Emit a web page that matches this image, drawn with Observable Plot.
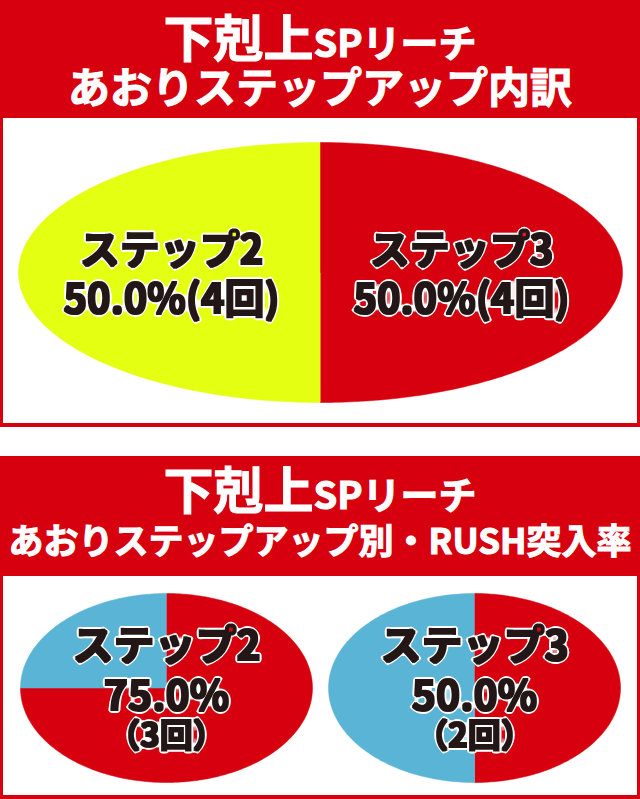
<!DOCTYPE html>
<html><head><meta charset="utf-8">
<script src="https://cdn.jsdelivr.net/npm/d3@7"></script>
<script src="https://cdn.jsdelivr.net/npm/@observablehq/plot@0.6"></script>
<style>
body{margin:0;background:#fff;width:640px;height:799px;position:relative;overflow:hidden;font-family:"Noto Sans CJK JP","Noto Sans",sans-serif;}
.red{position:absolute;left:0;width:640px;background:#d7000f;}
.white{position:absolute;left:3px;width:634px;background:#fff;}
.t{position:absolute;left:0;width:640px;text-align:center;color:#fff;font-weight:700;line-height:1;white-space:nowrap;-webkit-text-stroke:1.1px #fff;}
.big{font-size:50px;}
.sp{font-size:38px;}
</style></head>
<body>
<div class="red" style="top:0;height:427px"></div>
<div class="t" style="top:10px"><span class="big">下剋上</span><span class="sp">SPリーチ</span></div>
<div class="t" style="top:64px;font-size:42px">あおりステップアップ内訳</div>
<div class="white" id="top" style="top:118px;height:305px"></div>

<div class="red" style="top:456px;height:343px"></div>
<div class="t" style="top:462px"><span class="big">下剋上</span><span class="sp">SPリーチ</span></div>
<div class="t" style="top:521px;font-size:35px">あおりステップアップ別・RUSH突入率</div>
<div class="white" id="bottom" style="top:576px;height:219px;display:flex"></div>

<script>
// ---- data ----
const breakdownLabels = ["ステップ2", "ステップ3"];
const breakdownCounts = [4, 4];
const breakdownColors = ["#e4ff12", "#d7000f"];

const rushSteps = ["ステップ2", "ステップ3"];
const rushHits = [3, 2];
const rushTrials = [4, 4];
const rushCategories = ["RUSH突入", "非突入"];
const rushColors = ["#d7000f", "#5ab4d6"];

const pct = d3.format(".1%");
const FONT = '"Noto Sans CJK JP","Noto Sans",sans-serif';
const textStyle = {fill: "#231815", stroke: "white", strokeWidth: 8, strokeLinejoin: "round",
  fontWeight: 700, fontFamily: FONT};

function wedgePoints(labels, values, start) {
  const arcs = d3.pie().sort(null).startAngle(start).endAngle(start + 2 * Math.PI)(values);
  const pts = [];
  arcs.forEach((a, i) => {
    pts.push({label: labels[i], x: 0, y: 0});
    const n = Math.max(8, Math.ceil((a.endAngle - a.startAngle) * 60));
    for (let k = 0; k <= n; k++) {
      const t = a.startAngle + (a.endAngle - a.startAngle) * k / n;
      pts.push({label: labels[i], x: Math.sin(t), y: Math.cos(t)});
    }
  });
  return {arcs, pts};
}

// heavier dark glyphs: erode grows the dark fill into the white halo
function thicken(svg) {
  const defs = d3.select(svg).insert("defs", ":first-child");
  const f = defs.append("filter").attr("id", "thk" + Math.random().toString(36).slice(2))
    .attr("x", "-10%").attr("y", "-20%").attr("width", "120%").attr("height", "140%");
  f.append("feMorphology").attr("in", "SourceGraphic").attr("operator", "erode").attr("radius", 0.7);
  svg.querySelectorAll('g[aria-label="text"]').forEach(g => g.setAttribute("filter", `url(#${f.attr("id")})`));
  return svg;
}

// ---- top: breakdown ----
{
  const total = d3.sum(breakdownCounts);
  const {arcs, pts} = wedgePoints(breakdownLabels, breakdownCounts, Math.PI);
  const labels = arcs.map((a, i) => {
    const m = (a.startAngle + a.endAngle) / 2;
    return {x: 0.48 * Math.sin(m), y: 0.48 * Math.cos(m),
      text: breakdownLabels[i] + "\n" + pct(breakdownCounts[i] / total) + "(" + breakdownCounts[i] + "回)"};
  });
  const chart = Plot.plot({
    width: 634, height: 305,
    marginLeft: 15, marginRight: 15, marginTop: 24, marginBottom: 21,
    x: {domain: [-1, 1], axis: null},
    y: {domain: [-1, 1], axis: null},
    color: {domain: breakdownLabels, range: breakdownColors},
    marks: [
      Plot.line(pts, {x: "x", y: "y", z: "label", fill: "label", stroke: "label", strokeWidth: 0.5, curve: "linear"}),
      Plot.text(labels, {x: "x", y: "y", text: "text", dx: -4, fontSize: 40, lineHeight: 1.22, ...textStyle})
    ]
  });
  document.getElementById("top").append(thicken(chart));
}

// ---- bottom: RUSH rate per step ----
rushSteps.forEach((step, i) => {
  const vals = [rushHits[i], rushTrials[i] - rushHits[i]];
  const {pts} = wedgePoints(rushCategories, vals, 0);
  const left = i === 0;
  const chart = Plot.plot({
    width: 317, height: 219,
    marginLeft: left ? 17 : 8, marginRight: left ? 8 : 17, marginTop: 17, marginBottom: 13,
    x: {domain: [-1, 1], axis: null},
    y: {domain: [-1, 1], axis: null},
    color: {domain: rushCategories, range: rushColors},
    marks: [
      Plot.line(pts, {x: "x", y: "y", z: "label", fill: "label", stroke: "label", strokeWidth: 0.5, curve: "linear"}),
      Plot.text([step + "\n" + pct(rushHits[i] / rushTrials[i])], {frameAnchor: "middle", text: d => d, dy: -19, fontSize: 41, lineHeight: 1.22, ...textStyle}),
      Plot.text([rushHits[i]], {frameAnchor: "middle", text: d => "（" + d + "回）", dy: 48, fontSize: 33, ...textStyle})
    ]
  });
  document.getElementById("bottom").append(thicken(chart));
});
</script>
</body></html>
